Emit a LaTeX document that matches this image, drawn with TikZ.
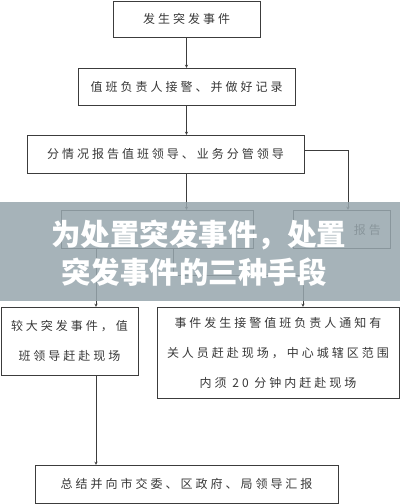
\documentclass[tikz,border=0pt]{standalone}
\usepackage{fontspec}
\newfontfamily\cjk{Noto Sans CJK SC}[LetterSpace=25]
\newfontfamily\cjktitle{Noto Sans CJK SC}
\usepackage{xcolor}
\definecolor{linegray}{RGB}{60, 60, 60}
\definecolor{textgray}{RGB}{55, 55, 55}
\definecolor{bandgray}{RGB}{151, 166, 173}
\usepackage{tikz}
\usetikzlibrary{
    arrows.meta,
    positioning
}
\tikzstyle{stepbox} = [
    rectangle,
    draw=linegray,
    text=textgray,
    font=\cjk\fontsize{12}{30}\selectfont,
    text centered,
    align=center,
    inner sep=0pt
]
\tikzstyle{title} = [
    text=white,
    font=\cjktitle\bfseries\fontsize{29.5}{30}\selectfont,
    inner sep=0pt
]
\tikzstyle{arrow} = [
    draw=linegray,
    ->,
    >=stealth
]

\begin{document}
\begin{tikzpicture}[x=1pt, y=-1pt]

\useasboundingbox (0,0) rectangle (400,504);

\node (start) [stepbox, minimum width=147pt, minimum height=36pt] at (186.5,19)
    {发生突发事件};
\node (record) [stepbox, minimum width=217pt, minimum height=37pt] at (186.5,86.5)
    {值班负责人接警、并做好记录};
\node (report) [stepbox, minimum width=277pt, minimum height=38pt] at (165.5,154)
    {分情况报告值班领导、业务分管领导};
\node (split) [stepbox, minimum width=192pt, minimum height=38pt] at (157,229) {};
\node (upward) [stepbox, minimum width=97pt, minimum height=38pt] at (341.5,229) {};
\node (upwardtext) [text=textgray, font=\cjk\fontsize{12}{14}\selectfont,
    inner sep=0pt, anchor=east] at (381,230) {报告};
\node (major) [stepbox, minimum width=137pt, minimum height=68pt] at (69.5,341)
    {较大突发事件，值\\班领导赶赴现场};
\node (general) [stepbox, minimum width=242pt, minimum height=91pt] at (278,352.5)
    {事件发生接警值班负责人通知有\\关人员赶赴现场，中心城辖区范围\\内须 20 分钟内赶赴现场};
\node (summary) [stepbox, minimum width=303pt, minimum height=38pt] at (186.5,484)
    {总结并向市交委、区政府、局领导汇报};

\draw [arrow] (start) -- (record);
\draw [arrow] (record) -- (report.north -| record);
\draw [arrow] (report.south -| record) -- (split.north -| record);
\draw [arrow] ([yshift=4pt]report.east) -| ([xshift=6.5pt]upward.north);
\draw [arrow] ([xshift=-61pt]split.south) -- ([xshift=-61pt]split.south |- major.north);
\draw [arrow] ([xshift=16pt]split.south) -- ++(0,27) -| ([xshift=25pt]general.north);
\draw [arrow] ([xshift=26.5pt]major.south) -- ([xshift=26.5pt]major.south |- summary.north);

% Banner
\fill [bandgray, fill opacity=0.85] (0,202) rectangle (400,301);
\node (title1) [title, anchor=west] at (51,235) {为处置突发事件，处置};
\node (title2) [title, anchor=west] at (61,272) {突发事件的三种手段};

\end{tikzpicture}
\end{document}
